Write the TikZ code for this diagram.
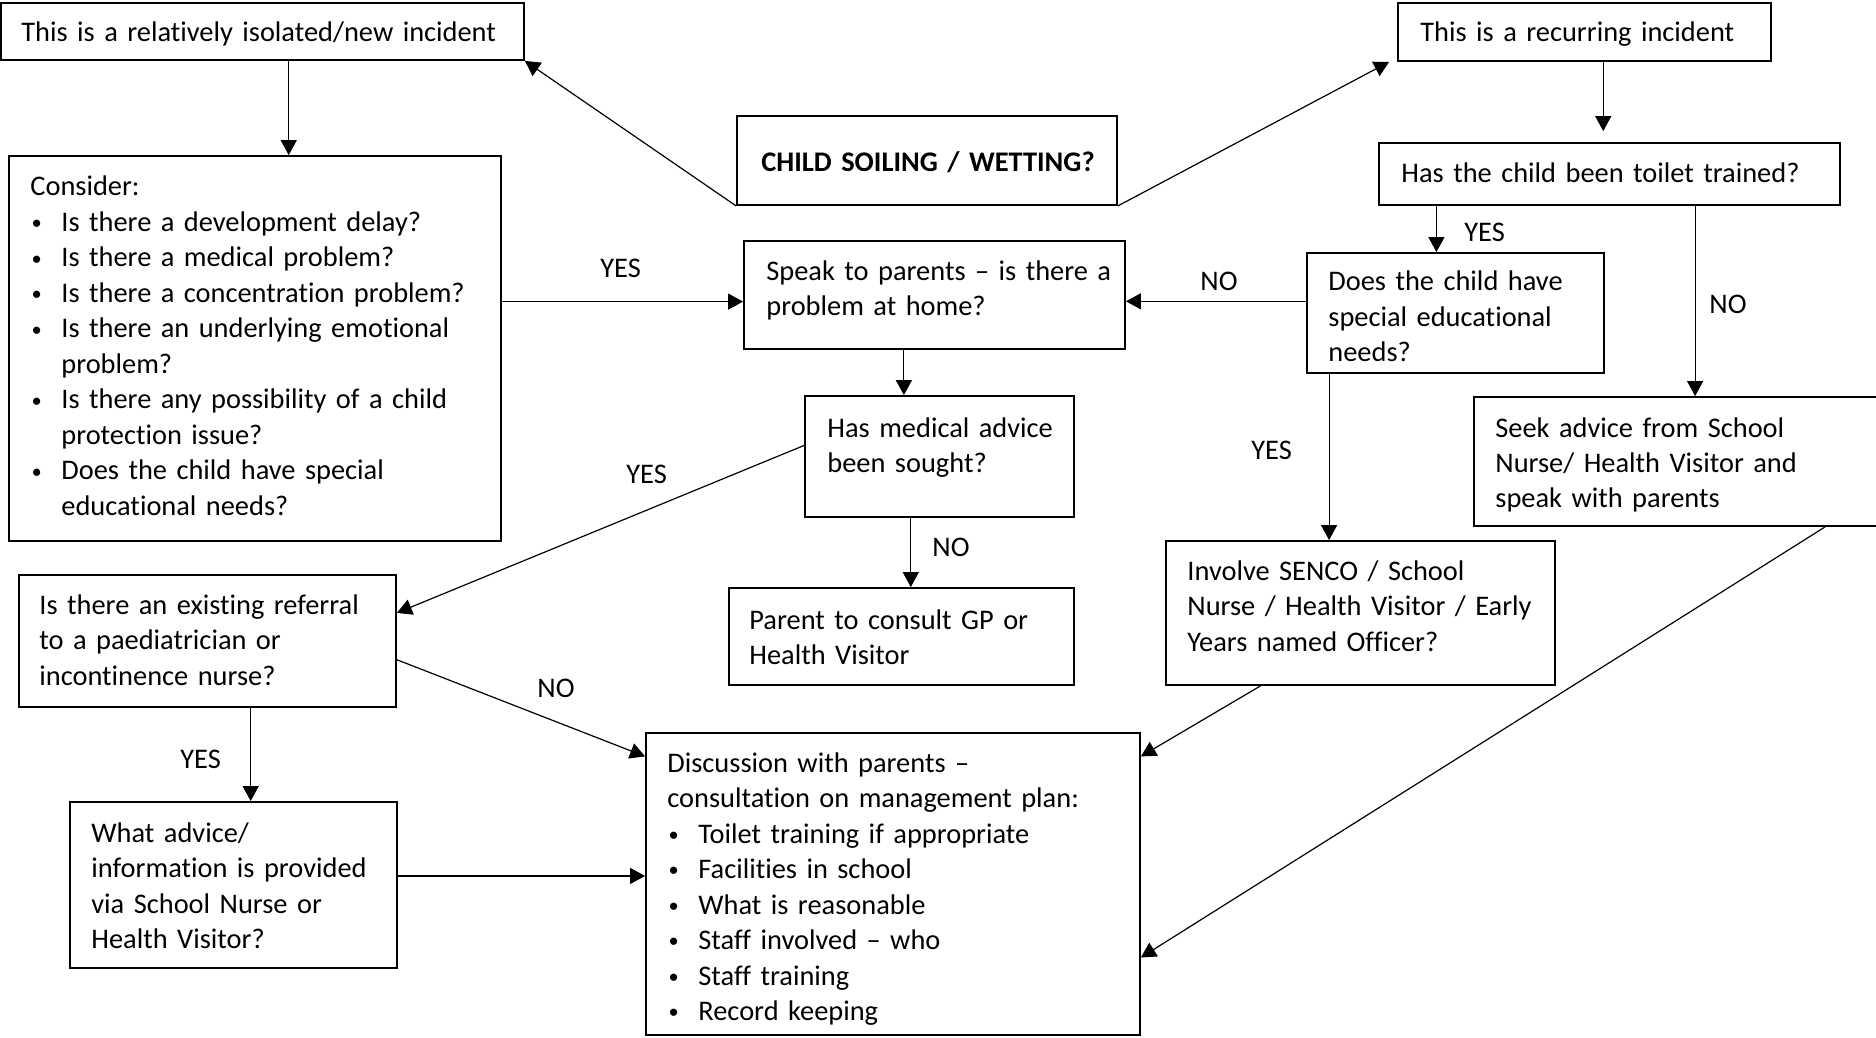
\documentclass[tikz,border=0pt]{standalone}
\usepackage{graphicx}
\usepackage{fontspec}
\setmainfont{Carlito}[Ligatures=NoCommon]
\usetikzlibrary{arrows.meta,fit,calc}
\newcommand\bitem[1]{\makebox[15.5pt][l]{\hspace{0.6pt}\raisebox{0.9pt}{\scalebox{0.72}{•}}}#1}
\newcommand\bcont[1]{\hspace*{15.5pt}#1}
\begin{document}
\begin{tikzpicture}[x=0.5pt,y=-0.5pt,
  box/.style={draw, line width=0.9pt, inner sep=0pt},
  txt/.style={anchor=base west, inner sep=0pt, align=left, text width=260pt, font=\fontsize{14.2pt}{17.75pt}\selectfont},
  lbl/.style={anchor=base west, inner sep=0pt, font=\fontsize{14.2pt}{17.75pt}\selectfont},
  arr/.style={line width=0.6pt, -{Triangle[length=7.5pt,width=8pt]}},
]
\useasboundingbox (0,0) rectangle (1876,1038);

% boxes
\node[box, fit={(1,3)(524,60)}] (iso) {};
\node[box, fit={(1398,3)(1771,61)}] (rec) {};
\node[box, fit={(737,116)(1117,205)}] (child) {};
\node[box, fit={(9,156)(501,541)}] (cons) {};
\node[box, fit={(744,241)(1125,349)}] (spk) {};
\node[box, fit={(1379,143)(1840,205)}] (toil) {};
\node[box, fit={(1307,253)(1604,373)}] (sen) {};
\node[box, fit={(805,396)(1074,517)}] (med) {};
\node[box, fit={(1474,397)(1884,526)}] (seek) {};
\node[box, fit={(1166,541)(1555,685)}] (inv) {};
\node[box, fit={(19,575)(396,707)}] (ref) {};
\node[box, fit={(729,588)(1074,685)}] (par) {};
\node[box, fit={(70,802)(397,968)}] (what) {};
\node[box, fit={(646,733)(1140,1035)}] (disc) {};

% texts
\node[txt] (isoT) at (21,42) {This is a relatively isolated/new incident};
\node[txt] (recT) at (1420,42) {This is a recurring incident};
\node[txt, font=\fontsize{14.2pt}{17.75pt}\selectfont\bfseries] (childT) at (761,172) {CHILD SOILING / WETTING?};
\node[txt] (consT) at (30,196) {Consider:\\
\bitem{Is there a development delay?}\\
\bitem{Is there a medical problem?}\\
\bitem{Is there a concentration problem?}\\
\bitem{Is there an underlying emotional}\\
\bcont{problem?}\\
\bitem{Is there any possibility of a child}\\
\bcont{protection issue?}\\
\bitem{Does the child have special}\\
\bcont{educational needs?}};
\node[txt] (spkT) at (766,280) {Speak to parents – is there a\\problem at home?};
\node[txt] (toilT) at (1401,183) {Has the child been toilet trained?};
\node[txt] (senT) at (1328,291) {Does the child have\\special educational\\needs?};
\node[txt] (medT) at (827,437) {Has medical advice\\been sought?};
\node[txt] (seekT) at (1495,437) {Seek advice from School\\Nurse/ Health Visitor and\\speak with parents};
\node[txt] (invT) at (1187,580) {Involve SENCO / School\\Nurse / Health Visitor / Early\\Years named Officer?};
\node[txt] (refT) at (39,614) {Is there an existing referral\\to a paediatrician or\\incontinence nurse?};
\node[txt] (parT) at (749,629) {Parent to consult GP or\\Health Visitor};
\node[txt] (whatT) at (91,842) {What advice/\\information is provided\\via School Nurse or\\Health Visitor?};
\begin{scope}
\clip (646,733) rectangle (1140,1025);
\node[txt] (discT) at (667,772) {Discussion with parents –\\
consultation on management plan:\\
\bitem{Toilet training if appropriate}\\
\bitem{Facilities in school}\\
\bitem{What is reasonable}\\
\bitem{Staff involved – who}\\
\bitem{Staff training}\\
\bitem{Record keeping}};
\end{scope}

% labels
\node[lbl] (l1) at (600,278) {YES};
\node[lbl] (l2) at (1200,290) {NO};
\node[lbl] (l3) at (1464,242) {YES};
\node[lbl] (l4) at (1709,314) {NO};
\node[lbl] (l5) at (626,483) {YES};
\node[lbl] (l6) at (1251,459) {YES};
\node[lbl] (l7) at (932,556) {NO};
\node[lbl] (l8) at (537,697) {NO};
\node[lbl] (l9) at (180,768) {YES};

% connectors
\draw[arr] (child.south west) -- (iso.south east);
\draw[arr] (child.south east) -- ($(rec.south west)+(-8,0)$);
\draw[arr] ($(iso.south west)!0.55!(iso.south east)$) coordinate (a1) -- (a1 |- cons.north);
\draw[arr, shorten >=5.5pt] ($(rec.south west)!0.55!(rec.south east)$) coordinate (a2) -- (a2 |- toil.north);
\path ($(spk.north west)!0.56!(spk.south west)$) coordinate (a3);
\draw[arr] (a3 -| cons.east) -- (a3);
\draw[arr] ($(spk.south west)!0.42!(spk.south east)$) coordinate (a4) -- (a4 |- med.north);
\draw[arr] ($(toil.south west)!0.126!(toil.south east)$) coordinate (a5) -- (a5 |- sen.north);
\draw[arr] ($(toil.south west)!0.685!(toil.south east)$) coordinate (a6) -- (a6 |- seek.north);
\draw[arr] ($(sen.north west)!0.404!(sen.south west)$) coordinate (a7) -- (a7 -| spk.east);
\draw[arr] ($(sen.south west)!0.077!(sen.south east)$) coordinate (a8) -- (a8 |- inv.north);
\draw[arr] ($(med.north west)!0.41!(med.south west)$) -- ($(ref.north east)!0.29!(ref.south east)$);
\draw[arr] ($(med.south west)!0.394!(med.south east)$) coordinate (a9) -- (a9 |- par.north);
\draw[arr] ($(ref.north east)!0.64!(ref.south east)$) -- ($(disc.north west)!0.08!(disc.south west)$);
\draw[arr] ($(ref.south west)!0.614!(ref.south east)$) coordinate (a10) -- (a10 |- what.north);
\draw[arr] ($(what.north east)!0.446!(what.south east)$) coordinate (a11) -- (a11 -| disc.west);
\draw[arr] ($(inv.south west)!0.244!(inv.south east)$) -- ($(disc.north east)!0.08!(disc.south east)$);
\draw[arr] ($(seek.south west)+(352,0)$) -- ($(disc.north east)!0.742!(disc.south east)$);
\end{tikzpicture}
\end{document}
